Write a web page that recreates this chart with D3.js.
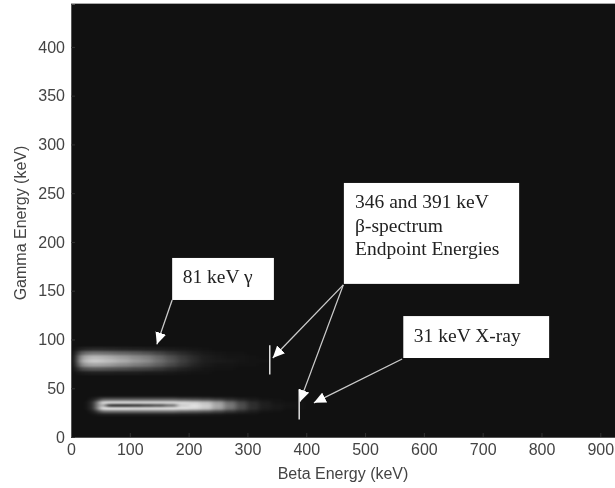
<!DOCTYPE html>
<html>
<head>
<meta charset="utf-8">
<script src="https://cdn.jsdelivr.net/npm/d3@7"></script>
<style>
  html, body { margin: 0; padding: 0; background: #fff; }
  svg { display: block; }
</style>
</head>
<body>
<div id="chart"></div>
<script>
// Tick labels
const betaTicks = [0, 100, 200, 300, 400, 500, 600, 700, 800, 900];
const gammaTicks = [0, 50, 100, 150, 200, 250, 300, 350, 400];

// Cell edges along the beta axis (keV), one more than the values in each row
const betaEdges = [10, 20, 30, 40, 50, 60, 70, 80, 100, 120, 140, 160, 180, 200, 220, 240, 260, 280, 300, 320, 340, 360, 380, 400];

// 81 keV gamma band, rows are 4 keV tall, brightness 0-1
const gammaBandRows = [66, 70, 74, 78, 82, 86, 90];
const gammaBandValues = [
  [.04, .05, .06, .06, .06, .06, .05, .05, .05, .04, .04, .03, .02, .01, .01, 0, 0, 0, 0, 0, 0, 0, 0],
  [.22, .28, .30, .30, .29, .28, .27, .25, .22, .20, .16, .11, .07, .04, .02, .01, .01, 0, 0, 0, 0, 0, 0],
  [.46, .58, .62, .62, .60, .58, .55, .51, .45, .40, .32, .23, .15, .08, .04, .02, .02, .01, .01, 0, 0, 0, 0],
  [.58, .72, .78, .78, .75, .72, .70, .65, .57, .51, .40, .29, .19, .11, .05, .04, .03, .02, .01, .01, 0, 0, 0],
  [.52, .65, .70, .70, .68, .65, .62, .58, .51, .46, .36, .26, .17, .10, .05, .03, .02, .02, .01, 0, 0, 0, 0],
  [.30, .38, .42, .42, .40, .39, .37, .35, .31, .27, .21, .15, .10, .06, .03, .02, .01, .01, 0, 0, 0, 0, 0],
  [.07, .09, .10, .10, .10, .09, .09, .08, .07, .06, .05, .04, .03, .02, .01, 0, 0, 0, 0, 0, 0, 0, 0]
];

// 31 keV X-ray band, rows are 3 keV tall, hollow core between about 55 and 170 keV
const xrayBandRows = [23, 26, 29, 32, 35, 38, 41];
const xrayBandValues = [
  [0, 0, .01, .04, .06, .06, .06, .06, .06, .06, .06, .06, .05, .05, .04, .03, .02, .01, .01, 0, 0, 0, 0],
  [0, 0, .05, .20, .38, .40, .40, .40, .40, .40, .40, .40, .36, .34, .30, .24, .16, .10, .05, .02, .01, 0, 0],
  [0, .01, .12, .50, .90, .92, .92, .92, .90, .90, .90, .90, .88, .84, .76, .60, .40, .24, .12, .05, .03, .01, .01],
  [0, .01, .12, .50, .70, .14, .10, .10, .14, .20, .26, .40, .80, .88, .80, .64, .44, .26, .13, .06, .03, .02, .01],
  [0, .01, .12, .48, .86, .88, .88, .88, .86, .86, .86, .86, .84, .80, .72, .58, .38, .22, .11, .05, .02, .01, .01],
  [0, 0, .05, .16, .32, .34, .34, .34, .34, .34, .34, .34, .30, .28, .25, .20, .13, .08, .04, .02, .01, 0, 0],
  [0, 0, .01, .03, .05, .05, .05, .05, .05, .05, .05, .05, .04, .04, .03, .02, .02, .01, .01, 0, 0, 0, 0]
];

// Endpoint markers: [beta, gamma from, gamma to]
const endpointMarks = [[338, 64, 94], [388, 18, 49]];

// Annotation boxes in axis units: [beta from, beta to, gamma from, gamma to]
const noteBoxes = [[172, 345, 140.5, 183.6], [464, 762, 157, 260.5], [565, 813, 81, 124]];

// Annotation text: [label, beta, gamma]
const noteLabels = [
  ["81 keV γ", 190, 158],
  ["346 and 391 keV", 483, 235],
  ["β-spectrum", 483, 210.5],
  ["Endpoint Energies", 483, 186.5],
  ["31 keV X-ray", 583, 97.4]
];

// Arrows in axis units: [beta from, gamma from, beta tip, gamma tip]
const noteArrows = [
  [172, 140.5, 146, 95],
  [463, 156, 343, 81],
  [463, 156, 389, 36],
  [563, 80, 413, 35]
];

const width = 615;
const height = 488;
const margin = { top: 4, right: 0, bottom: 51, left: 71 };
const FONT_AXIS = "'Liberation Sans', Arial, sans-serif";
const FONT_NOTE = "'Liberation Serif', 'Times New Roman', serif";
const COLOR_AXIS_TEXT = "#444";
const COLOR_PLOT = "#111";

const x = d3.scaleLinear().domain([0, 925]).range([margin.left, width - margin.right]);
const y = d3.scaleLinear().domain([0, 444]).range([height - margin.bottom, margin.top]);

const svg = d3.select("#chart")
  .append("svg")
  .attr("width", width)
  .attr("height", height);

const defs = svg.append("defs");

// Each band gets its own blur, the gamma band is softer along beta
function addBlur(id, deviation) {
  defs.append("filter").attr("id", id)
    .attr("x", "-10%").attr("y", "-40%").attr("width", "120%").attr("height", "180%")
    .attr("color-interpolation-filters", "sRGB")
    .append("feGaussianBlur").attr("stdDeviation", deviation);
}
addBlur("gammaBlur", "3.5 1.1");
addBlur("xrayBlur", "2.8 1");
addBlur("textBlur", 0.35);

defs.append("marker").attr("id", "arrowHead")
  .attr("viewBox", "0 0 12 11")
  .attr("markerUnits", "userSpaceOnUse")
  .attr("markerWidth", 12).attr("markerHeight", 11)
  .attr("refX", 12).attr("refY", 5.5)
  .attr("orient", "auto")
  .append("path").attr("d", "M0,0L12,5.5L0,11Z").attr("fill", "#fff");

// Plot background
svg.append("rect")
  .attr("x", x(0))
  .attr("y", y(444))
  .attr("width", x(925) - x(0))
  .attr("height", y(0) - y(444))
  .attr("fill", COLOR_PLOT);

// Top edge of the frame
svg.append("line")
  .attr("x1", x(0)).attr("x2", x(925))
  .attr("y1", y(444) - 0.5).attr("y2", y(444) - 0.5)
  .attr("stroke", "#aaa");

// Draw one band as blurred white cells, brightness is the cell opacity
function drawBand(rows, values, rowHeight, blurId) {
  const cells = [];
  rows.forEach((gamma, r) => {
    values[r].forEach((v, c) => {
      cells.push({ b0: betaEdges[c], b1: betaEdges[c + 1], g: gamma, v });
    });
  });
  svg.append("g")
    .attr("filter", `url(#${blurId})`)
    .selectAll("rect")
    .data(cells)
    .join("rect")
    .attr("x", d => x(d.b0))
    .attr("width", d => x(d.b1) - x(d.b0))
    .attr("y", d => y(d.g + rowHeight / 2))
    .attr("height", d => y(d.g - rowHeight / 2) - y(d.g + rowHeight / 2))
    .attr("shape-rendering", "crispEdges")
    .attr("fill", "#fff")
    .attr("fill-opacity", d => d.v);
}

drawBand(gammaBandRows, gammaBandValues, 4, "gammaBlur");
drawBand(xrayBandRows, xrayBandValues, 3, "xrayBlur");

// Axes
const axisText = svg.append("g").attr("filter", "url(#textBlur)");

const xAxis = axisText.append("g")
  .attr("transform", `translate(0,${y(0)})`)
  .call(d3.axisBottom(x).tickValues(betaTicks).tickSize(-4).tickPadding(7));

const yAxis = axisText.append("g")
  .attr("transform", `translate(${x(0)},0)`)
  .call(d3.axisLeft(y).tickValues(gammaTicks).tickSize(-4).tickPadding(6));

[xAxis, yAxis].forEach(axis => {
  axis.select(".domain").attr("stroke", "#555");
  axis.selectAll(".tick line").attr("stroke", "#333");
  axis.selectAll("text")
    .attr("fill", COLOR_AXIS_TEXT)
    .attr("font-family", FONT_AXIS)
    .attr("font-size", 16);
});

axisText.append("text")
  .attr("x", 343)
  .attr("y", 479)
  .attr("text-anchor", "middle")
  .attr("fill", COLOR_AXIS_TEXT)
  .attr("font-family", FONT_AXIS)
  .attr("font-size", 16)
  .text("Beta Energy (keV)");

axisText.append("text")
  .attr("transform", "translate(26,223) rotate(-90)")
  .attr("text-anchor", "middle")
  .attr("fill", COLOR_AXIS_TEXT)
  .attr("font-family", FONT_AXIS)
  .attr("font-size", 16)
  .text("Gamma Energy (keV)");

// Endpoint markers
svg.append("g").selectAll("line")
  .data(endpointMarks)
  .join("line")
  .attr("x1", d => x(d[0])).attr("x2", d => x(d[0]))
  .attr("y1", d => y(d[1])).attr("y2", d => y(d[2]))
  .attr("stroke", "#eee")
  .attr("stroke-width", 1.4);

// Annotation arrows
svg.append("g").selectAll("line")
  .data(noteArrows)
  .join("line")
  .attr("x1", d => x(d[0])).attr("y1", d => y(d[1]))
  .attr("x2", d => x(d[2])).attr("y2", d => y(d[3]))
  .attr("stroke", "#ccc")
  .attr("stroke-width", 1.3)
  .attr("marker-end", "url(#arrowHead)");

// Annotation boxes and labels
svg.append("g").selectAll("rect")
  .data(noteBoxes)
  .join("rect")
  .attr("x", d => x(d[0]))
  .attr("width", d => x(d[1]) - x(d[0]))
  .attr("y", d => y(d[3]))
  .attr("height", d => y(d[2]) - y(d[3]))
  .attr("fill", "#fff");

svg.append("g").attr("filter", "url(#textBlur)")
  .selectAll("text")
  .data(noteLabels)
  .join("text")
  .attr("x", d => x(d[1]))
  .attr("y", d => y(d[2]))
  .attr("fill", "#222")
  .attr("font-family", FONT_NOTE)
  .attr("font-size", 19.5)
  .text(d => d[0]);
</script>
</body>
</html>
